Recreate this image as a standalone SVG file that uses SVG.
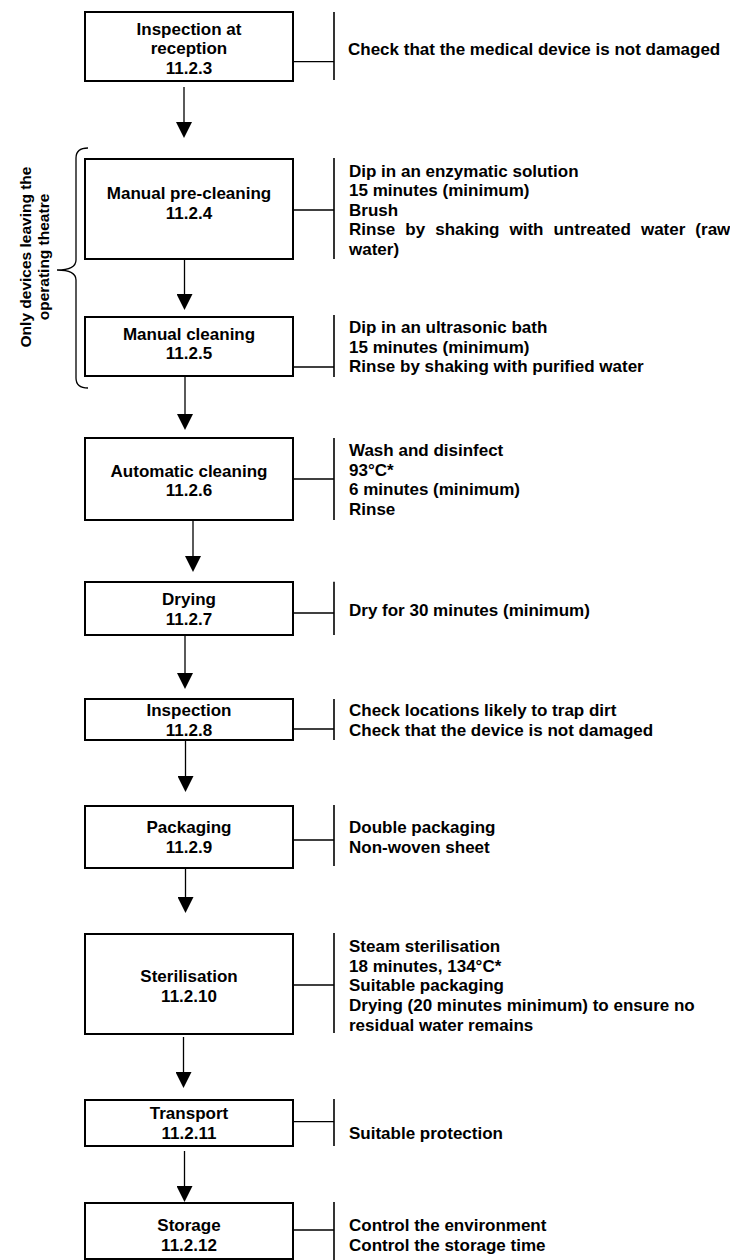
<svg xmlns="http://www.w3.org/2000/svg" width="730" height="1260" viewBox="0 0 730 1260">
  <style>
    text { font-family: "Liberation Sans", Arial, sans-serif; font-weight: bold; font-size: 17px; fill: #000; }
    .c { text-anchor: middle; }
    .side { font-size: 15.5px; }
    .box { fill: #fff; stroke: #000; stroke-width: 2; }
    .tie { stroke: #000; stroke-width: 1.3; fill: none; }
    .bar { stroke: #000; stroke-width: 1.6; fill: none; }
    .flow { stroke: #000; stroke-width: 1.3; fill: none; marker-end: url(#head); }
  </style>
  <defs>
    <marker id="head" viewBox="0 0 16 16" refX="0" refY="8" markerWidth="16" markerHeight="16" markerUnits="userSpaceOnUse" orient="auto">
      <path d="M0,0 L16,8 L0,16 z" fill="#000"/>
    </marker>
  </defs>

  <!-- flow arrows between steps -->
  <g id="connectors">
    <line class="flow" x1="184" y1="87" x2="184" y2="122"/>
    <line class="flow" x1="184.5" y1="260" x2="184.5" y2="294"/>
    <line class="flow" x1="185" y1="377" x2="185" y2="414"/>
    <line class="flow" x1="193" y1="521" x2="193" y2="556"/>
    <line class="flow" x1="185" y1="636" x2="185" y2="673"/>
    <line class="flow" x1="185.5" y1="741" x2="185.5" y2="776"/>
    <line class="flow" x1="185.5" y1="862" x2="185.5" y2="897"/>
    <line class="flow" x1="183.5" y1="1037" x2="183.5" y2="1072"/>
    <line class="flow" x1="184.5" y1="1151" x2="184.5" y2="1186"/>
  </g>

  <!-- bracket grouping the operating-theatre steps -->
  <g id="theatre-group">
    <path class="tie" d="M88,148 Q76,148 76,158 L76,260 Q76,270 57,270 Q76,270 76,280 L76,378 Q76,388 88,388"/>
    <text class="c side" transform="translate(31,257) rotate(-90)">Only devices leaving the</text>
    <text class="c side" transform="translate(49,257) rotate(-90)">operating theatre</text>
  </g>

  <g id="step-reception">
    <rect class="box" x="85" y="12" width="208" height="69"/>
    <text class="c" x="189" y="34.5">Inspection at</text>
    <text class="c" x="189" y="54">reception</text>
    <text class="c" x="189" y="73.5">11.2.3</text>
    <line class="tie" x1="293" y1="61.7" x2="334" y2="61.7"/>
    <line class="bar" x1="334" y1="12" x2="334" y2="80"/>
    <text x="348" y="54.5">Check that the medical device is not damaged</text>
  </g>

  <g id="step-precleaning">
    <rect class="box" x="85" y="159" width="208" height="100"/>
    <text class="c" x="189" y="199">Manual pre-cleaning</text>
    <text class="c" x="189" y="218.7">11.2.4</text>
    <line class="tie" x1="293" y1="210" x2="334" y2="210"/>
    <line class="bar" x1="334" y1="158" x2="334" y2="259"/>
    <text x="349" y="176.5">Dip in an enzymatic solution</text>
    <text x="349" y="196">15 minutes (minimum)</text>
    <text x="349" y="215.5">Brush</text>
    <text x="349" y="235" word-spacing="5.3">Rinse by shaking with untreated water (raw</text>
    <text x="349" y="254.5">water)</text>
  </g>

  <g id="step-manual-cleaning">
    <rect class="box" x="85" y="317" width="208" height="59"/>
    <text class="c" x="189" y="340">Manual cleaning</text>
    <text class="c" x="189" y="359">11.2.5</text>
    <line class="tie" x1="293" y1="367" x2="334" y2="367"/>
    <line class="bar" x1="334" y1="315" x2="334" y2="377"/>
    <text x="349" y="333">Dip in an ultrasonic bath</text>
    <text x="349" y="352.5">15 minutes (minimum)</text>
    <text x="349" y="372">Rinse by shaking with purified water</text>
  </g>

  <g id="step-automatic-cleaning">
    <rect class="box" x="85" y="438" width="208" height="82"/>
    <text class="c" x="189" y="476.7">Automatic cleaning</text>
    <text class="c" x="189" y="496">11.2.6</text>
    <line class="tie" x1="293" y1="479" x2="334" y2="479"/>
    <line class="bar" x1="334" y1="438" x2="334" y2="520"/>
    <text x="349" y="456">Wash and disinfect</text>
    <text x="349" y="475.7">93°C*</text>
    <text x="349" y="495.4">6 minutes (minimum)</text>
    <text x="349" y="515">Rinse</text>
  </g>

  <g id="step-drying">
    <rect class="box" x="85" y="582" width="208" height="53"/>
    <text class="c" x="189" y="605.3">Drying</text>
    <text class="c" x="189" y="625.3">11.2.7</text>
    <line class="tie" x1="293" y1="613" x2="334" y2="613"/>
    <line class="bar" x1="334" y1="581.7" x2="334" y2="635"/>
    <text x="349" y="616">Dry for 30 minutes (minimum)</text>
  </g>

  <g id="step-inspection">
    <rect class="box" x="85" y="699" width="208" height="41"/>
    <text class="c" x="189" y="716">Inspection</text>
    <text class="c" x="189" y="736">11.2.8</text>
    <line class="tie" x1="293" y1="729" x2="334" y2="729"/>
    <line class="bar" x1="334" y1="699" x2="334" y2="740"/>
    <text x="349" y="716">Check locations likely to trap dirt</text>
    <text x="349" y="736">Check that the device is not damaged</text>
  </g>

  <g id="step-packaging">
    <rect class="box" x="85" y="806" width="208" height="62"/>
    <text class="c" x="189" y="833.3">Packaging</text>
    <text class="c" x="189" y="853.3">11.2.9</text>
    <line class="tie" x1="293" y1="840" x2="334" y2="840"/>
    <line class="bar" x1="334" y1="805" x2="334" y2="866"/>
    <text x="349" y="833.3">Double packaging</text>
    <text x="349" y="853.3">Non-woven sheet</text>
  </g>

  <g id="step-sterilisation">
    <rect class="box" x="85" y="934" width="208" height="100"/>
    <text class="c" x="189" y="981.7">Sterilisation</text>
    <text class="c" x="189" y="1001.7">11.2.10</text>
    <line class="tie" x1="293" y1="985" x2="334" y2="985"/>
    <line class="bar" x1="334" y1="933" x2="334" y2="1033"/>
    <text x="349" y="951.7">Steam sterilisation</text>
    <text x="349" y="971.5">18 minutes, 134°C*</text>
    <text x="349" y="991.3">Suitable packaging</text>
    <text x="349" y="1011.1">Drying (20 minutes minimum) to ensure no</text>
    <text x="349" y="1031">residual water remains</text>
  </g>

  <g id="step-transport">
    <rect class="box" x="85" y="1100" width="208" height="46"/>
    <text class="c" x="189" y="1119.3">Transport</text>
    <text class="c" x="189" y="1139.3">11.2.11</text>
    <line class="tie" x1="293" y1="1121.7" x2="334" y2="1121.7"/>
    <line class="bar" x1="334" y1="1099" x2="334" y2="1146"/>
    <text x="349" y="1139.3">Suitable protection</text>
  </g>

  <g id="step-storage">
    <rect class="box" x="85" y="1203" width="208" height="56"/>
    <text class="c" x="189" y="1231">Storage</text>
    <text class="c" x="189" y="1251">11.2.12</text>
    <line class="tie" x1="293" y1="1230" x2="334" y2="1230"/>
    <line class="bar" x1="334" y1="1202" x2="334" y2="1260"/>
    <text x="349" y="1231">Control the environment</text>
    <text x="349" y="1251">Control the storage time</text>
  </g>
</svg>
